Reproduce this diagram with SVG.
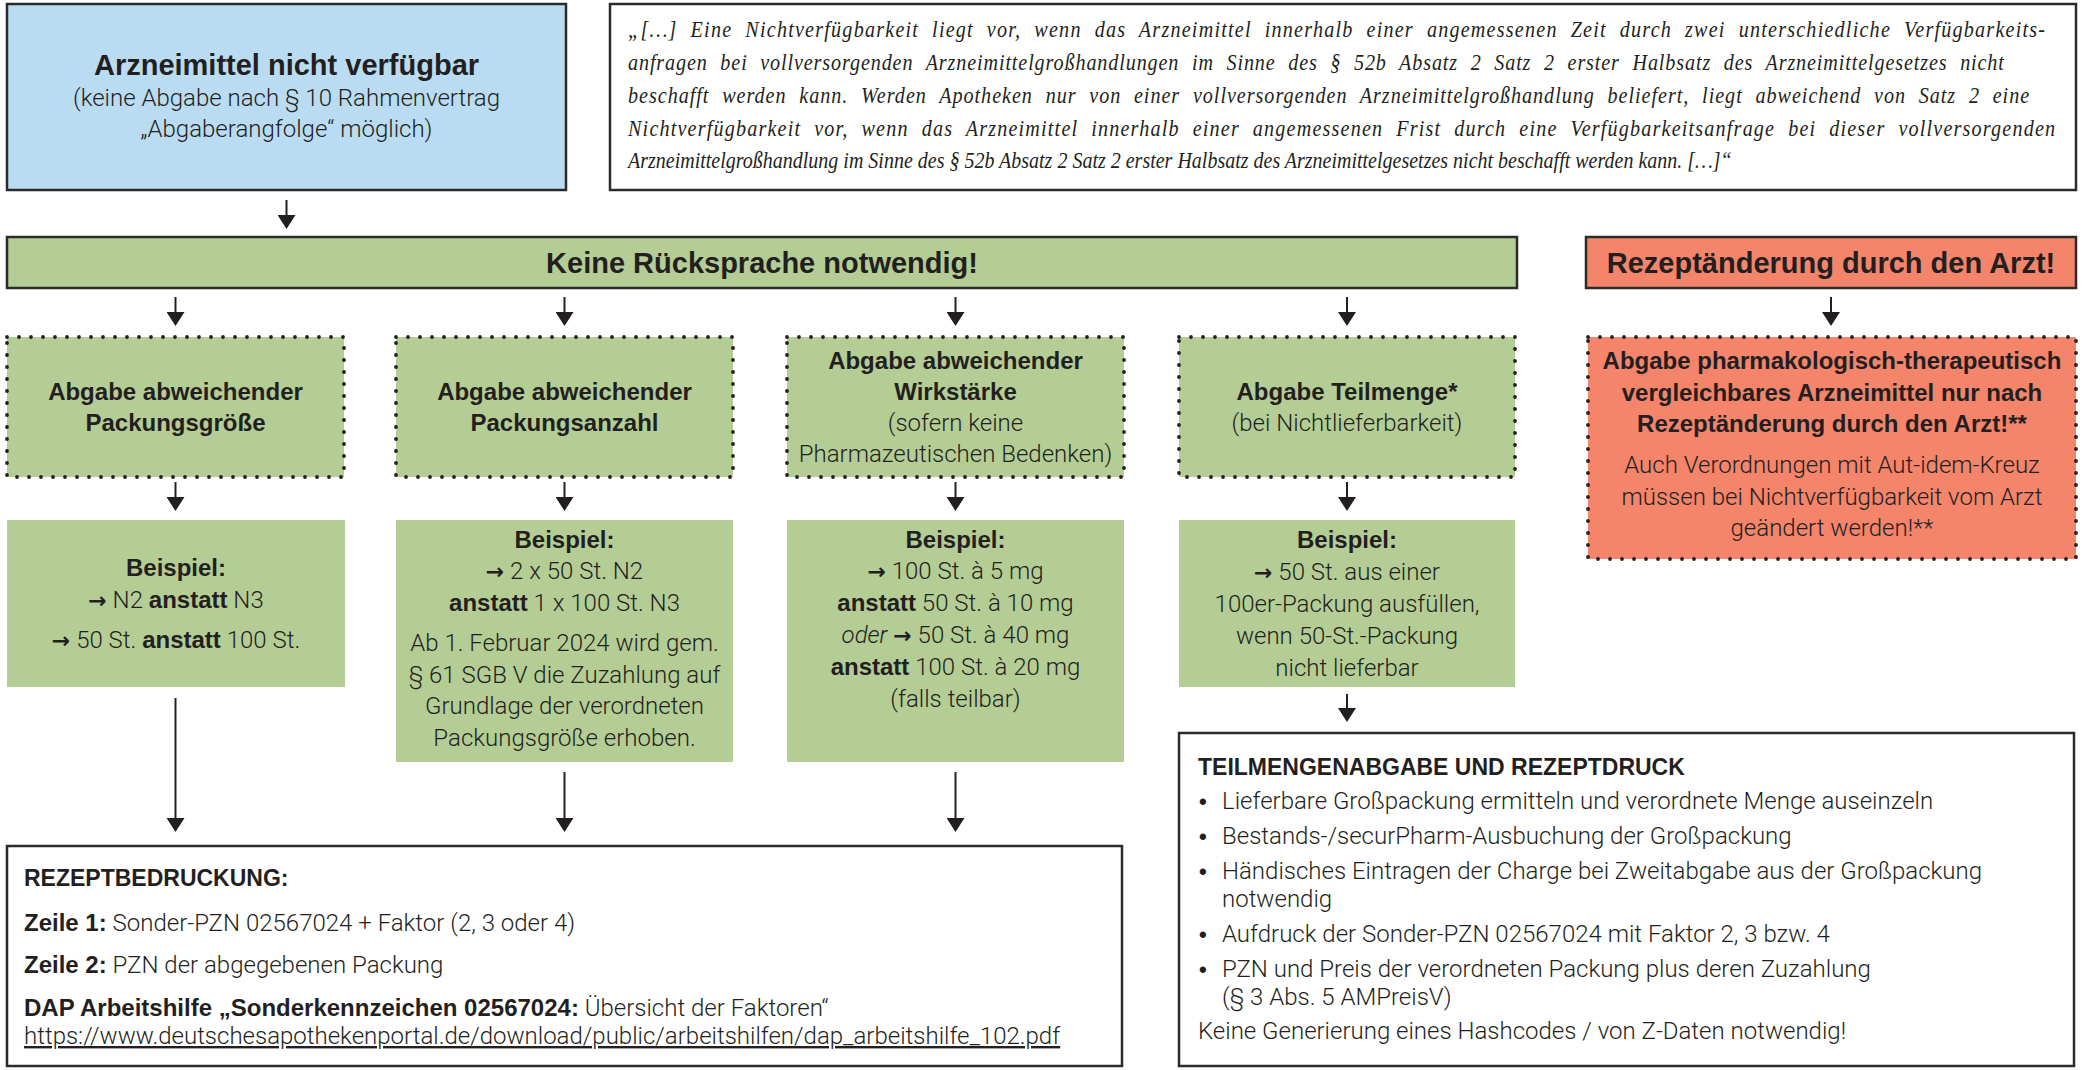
<svg xmlns="http://www.w3.org/2000/svg" width="2084" height="1070" viewBox="0 0 2084 1070">
<style>
.b{font-family:"Liberation Sans",Arial,sans-serif;font-weight:700;fill:#231f20}
.l{font-family:Roboto,"Liberation Sans",sans-serif;font-weight:300;fill:#231f20}
.ar{font-family:"DejaVu Sans",sans-serif;font-weight:700;font-size:22px;fill:#231f20}
.bu{font-family:"Liberation Sans",Arial,sans-serif;font-weight:700;font-size:22px;fill:#231f20}
.q{font-family:"Liberation Serif","Times New Roman",serif;font-style:italic;font-size:24px;fill:#231f20}
.ws{word-spacing:8px}
.t29{font-size:29px}
.t24{font-size:24px}
.t23{font-size:23px}
.c{text-anchor:middle}
.solid{stroke:#2b2b2b;stroke-width:2.5}
.dot{stroke:#231f20;stroke-width:3.8;stroke-dasharray:0 12;stroke-linecap:round;fill:none}
.conn line{stroke:#231f20;stroke-width:2}
</style>
<defs>
<marker id="ah" markerUnits="userSpaceOnUse" markerWidth="14" markerHeight="18" refX="10" refY="9" orient="auto">
<path d="M0,0 L14,9 L0,18 Z" fill="#231f20"/>
</marker>
</defs>
<rect width="2084" height="1070" fill="#ffffff"/>

<g id="n-start">
<rect x="7" y="4" width="559" height="186" fill="#b9dcf3" class="solid"/>
<text class="b t29 c" x="286.5" y="75">Arzneimittel nicht verfügbar</text>
<text class="l t24 c" x="286.5" y="106">(keine Abgabe nach § 10 Rahmenvertrag</text>
<text class="l t24 c" x="286.5" y="137">„Abgaberangfolge“ möglich)</text>
</g>

<g id="n-quote">
<rect x="610" y="4" width="1466" height="186" fill="#ffffff" class="solid"/>
<g transform="translate(628,0) scale(0.84,1)">
<text class="q ws" x="0" y="37" textLength="1687" lengthAdjust="spacing">„[…] Eine Nichtverfügbarkeit liegt vor, wenn das Arzneimittel innerhalb einer angemessenen Zeit durch zwei unterschiedliche Verfügbarkeits-</text>
<text class="q ws" x="0" y="70" textLength="1638" lengthAdjust="spacing">anfragen bei vollversorgenden Arzneimittelgroßhandlungen im Sinne des § 52b Absatz 2 Satz 2 erster Halbsatz des Arzneimittelgesetzes nicht</text>
<text class="q ws" x="0" y="103" textLength="1668" lengthAdjust="spacing">beschafft werden kann. Werden Apotheken nur von einer vollversorgenden Arzneimittelgroßhandlung beliefert, liegt abweichend von Satz 2 eine</text>
<text class="q ws" x="0" y="136" textLength="1699" lengthAdjust="spacing">Nichtverfügbarkeit vor, wenn das Arzneimittel innerhalb einer angemessenen Frist durch eine Verfügbarkeitsanfrage bei dieser vollversorgenden</text>
<text class="q" x="0" y="168" textLength="1314" lengthAdjust="spacingAndGlyphs">Arzneimittelgroßhandlung im Sinne des § 52b Absatz 2 Satz 2 erster Halbsatz des Arzneimittelgesetzes nicht beschafft werden kann. […]“</text>
</g>
</g>

<g id="n-keine">
<rect x="7" y="237" width="1510" height="51" fill="#b4cd94" class="solid"/>
<text class="b t29 c" x="762" y="273">Keine Rücksprache notwendig!</text>
</g>

<g id="n-rezeptaenderung">
<rect x="1586" y="237" width="490" height="51" fill="#f4846a" class="solid"/>
<text class="b t29 c" x="1831" y="273">Rezeptänderung durch den Arzt!</text>
</g>

<g id="n-packungsgroesse">
<rect x="7" y="337" width="337" height="140" fill="#b4cd94"/>
<rect x="7" y="337" width="337" height="140" class="dot"/>
<text class="b t24 c" x="175.5" y="400">Abgabe abweichender</text>
<text class="b t24 c" x="175.5" y="431">Packungsgröße</text>
</g>

<g id="n-packungsanzahl">
<rect x="396" y="337" width="337" height="140" fill="#b4cd94"/>
<rect x="396" y="337" width="337" height="140" class="dot"/>
<text class="b t24 c" x="564.5" y="400">Abgabe abweichender</text>
<text class="b t24 c" x="564.5" y="431">Packungsanzahl</text>
</g>

<g id="n-wirkstaerke">
<rect x="787" y="337" width="337" height="140" fill="#b4cd94"/>
<rect x="787" y="337" width="337" height="140" class="dot"/>
<text class="b t24 c" x="955.5" y="369">Abgabe abweichender</text>
<text class="b t24 c" x="955.5" y="400">Wirkstärke</text>
<text class="l t24 c" x="955.5" y="431">(sofern keine</text>
<text class="l t24 c" x="955.5" y="462">Pharmazeutischen Bedenken)</text>
</g>

<g id="n-teilmenge">
<rect x="1179" y="337" width="336" height="140" fill="#b4cd94"/>
<rect x="1179" y="337" width="336" height="140" class="dot"/>
<text class="b t24 c" x="1347" y="400">Abgabe Teilmenge*</text>
<text class="l t24 c" x="1347" y="431">(bei Nichtlieferbarkeit)</text>
</g>

<g id="n-pharmako">
<rect x="1588" y="337" width="488" height="222" fill="#f4846a"/>
<rect x="1588" y="337" width="488" height="222" class="dot"/>
<text class="b t24 c" x="1832" y="369">Abgabe pharmakologisch-therapeutisch</text>
<text class="b t24 c" x="1832" y="401">vergleichbares Arzneimittel nur nach</text>
<text class="b t24 c" x="1832" y="432">Rezeptänderung durch den Arzt!**</text>
<text class="l t24 c" x="1832" y="473">Auch Verordnungen mit Aut-idem-Kreuz</text>
<text class="l t24 c" x="1832" y="505">müssen bei Nichtverfügbarkeit vom Arzt</text>
<text class="l t24 c" x="1832" y="536">geändert werden!**</text>
</g>

<g id="n-bsp1">
<rect x="7" y="520" width="338" height="167" fill="#b4cd94"/>
<text class="b t24 c" x="176" y="576">Beispiel:</text>
<text class="l t24 c" x="176" y="608"><tspan class="ar">→</tspan> N2 <tspan class="b">anstatt</tspan> N3</text>
<text class="l t24 c" x="176" y="648"><tspan class="ar">→</tspan> 50 St. <tspan class="b">anstatt</tspan> 100 St.</text>
</g>

<g id="n-bsp2">
<rect x="396" y="520" width="337" height="242" fill="#b4cd94"/>
<text class="b t24 c" x="564.5" y="548">Beispiel:</text>
<text class="l t24 c" x="564.5" y="579"><tspan class="ar">→</tspan> 2 x 50 St. N2</text>
<text class="l t24 c" x="564.5" y="611"><tspan class="b">anstatt</tspan> 1 x 100 St. N3</text>
<text class="l t24 c" x="564.5" y="651">Ab 1. Februar 2024 wird gem.</text>
<text class="l t24 c" x="564.5" y="683">§ 61 SGB V die Zuzahlung auf</text>
<text class="l t24 c" x="564.5" y="714">Grundlage der verordneten</text>
<text class="l t24 c" x="564.5" y="746">Packungsgröße erhoben.</text>
</g>

<g id="n-bsp3">
<rect x="787" y="520" width="337" height="242" fill="#b4cd94"/>
<text class="b t24 c" x="955.5" y="548">Beispiel:</text>
<text class="l t24 c" x="955.5" y="579"><tspan class="ar">→</tspan> 100 St. à 5 mg</text>
<text class="l t24 c" x="955.5" y="611"><tspan class="b">anstatt</tspan> 50 St. à 10 mg</text>
<text class="l t24 c" x="955.5" y="643"><tspan font-style="italic">oder</tspan> <tspan class="ar">→</tspan> 50 St. à 40 mg</text>
<text class="l t24 c" x="955.5" y="675"><tspan class="b">anstatt</tspan> 100 St. à 20 mg</text>
<text class="l t24 c" x="955.5" y="707">(falls teilbar)</text>
</g>

<g id="n-bsp4">
<rect x="1179" y="520" width="336" height="167" fill="#b4cd94"/>
<text class="b t24 c" x="1347" y="548">Beispiel:</text>
<text class="l t24 c" x="1347" y="580"><tspan class="ar">→</tspan> 50 St. aus einer</text>
<text class="l t24 c" x="1347" y="612">100er-Packung ausfüllen,</text>
<text class="l t24 c" x="1347" y="644">wenn 50-St.-Packung</text>
<text class="l t24 c" x="1347" y="676">nicht lieferbar</text>
</g>

<g id="n-rezeptbedruckung">
<rect x="7" y="846" width="1115" height="220" fill="#ffffff" class="solid"/>
<text class="b t23" x="24" y="886">REZEPTBEDRUCKUNG:</text>
<text class="l t24" x="24" y="931"><tspan class="b">Zeile 1:</tspan> Sonder-PZN 02567024 + Faktor (2, 3 oder 4)</text>
<text class="l t24" x="24" y="973"><tspan class="b">Zeile 2:</tspan> PZN der abgegebenen Packung</text>
<text class="l t24" x="24" y="1016"><tspan class="b">DAP Arbeitshilfe „Sonderkennzeichen 02567024:</tspan> Übersicht der Faktoren“</text>
<text class="l t24" x="24" y="1044" text-decoration="underline">https://www.deutschesapothekenportal.de/download/public/arbeitshilfen/dap_arbeitshilfe_102.pdf</text>
</g>

<g id="n-teilmengenabgabe">
<rect x="1179" y="733" width="895" height="333" fill="#ffffff" class="solid"/>
<text class="b t23" x="1198" y="775">TEILMENGENABGABE UND REZEPTDRUCK</text>
<text class="bu" x="1199" y="809">•</text>
<text class="l t24" x="1222" y="809">Lieferbare Großpackung ermitteln und verordnete Menge auseinzeln</text>
<text class="bu" x="1199" y="844">•</text>
<text class="l t24" x="1222" y="844">Bestands-/securPharm-Ausbuchung der Großpackung</text>
<text class="bu" x="1199" y="879">•</text>
<text class="l t24" x="1222" y="879">Händisches Eintragen der Charge bei Zweitabgabe aus der Großpackung</text>
<text class="l t24" x="1222" y="907">notwendig</text>
<text class="bu" x="1199" y="942">•</text>
<text class="l t24" x="1222" y="942">Aufdruck der Sonder-PZN 02567024 mit Faktor 2, 3 bzw. 4</text>
<text class="bu" x="1199" y="977">•</text>
<text class="l t24" x="1222" y="977">PZN und Preis der verordneten Packung plus deren Zuzahlung</text>
<text class="l t24" x="1222" y="1005">(§ 3 Abs. 5 AMPreisV)</text>
<text class="l t24" x="1198" y="1039">Keine Generierung eines Hashcodes / von Z-Daten notwendig!</text>
</g>

<g id="connectors" class="conn">
<line x1="286.5" y1="200" x2="286.5" y2="225" marker-end="url(#ah)"/>
<line x1="175.5" y1="297" x2="175.5" y2="322" marker-end="url(#ah)"/>
<line x1="564.5" y1="297" x2="564.5" y2="322" marker-end="url(#ah)"/>
<line x1="955.5" y1="297" x2="955.5" y2="322" marker-end="url(#ah)"/>
<line x1="1347" y1="297" x2="1347" y2="322" marker-end="url(#ah)"/>
<line x1="1831" y1="297" x2="1831" y2="322" marker-end="url(#ah)"/>
<line x1="175.5" y1="482" x2="175.5" y2="507" marker-end="url(#ah)"/>
<line x1="564.5" y1="482" x2="564.5" y2="507" marker-end="url(#ah)"/>
<line x1="955.5" y1="482" x2="955.5" y2="507" marker-end="url(#ah)"/>
<line x1="1347" y1="482" x2="1347" y2="507" marker-end="url(#ah)"/>
<line x1="175.5" y1="698" x2="175.5" y2="828" marker-end="url(#ah)"/>
<line x1="564.5" y1="772" x2="564.5" y2="828" marker-end="url(#ah)"/>
<line x1="955.5" y1="772" x2="955.5" y2="828" marker-end="url(#ah)"/>
<line x1="1347" y1="694" x2="1347" y2="718" marker-end="url(#ah)"/>
</g>
</svg>
